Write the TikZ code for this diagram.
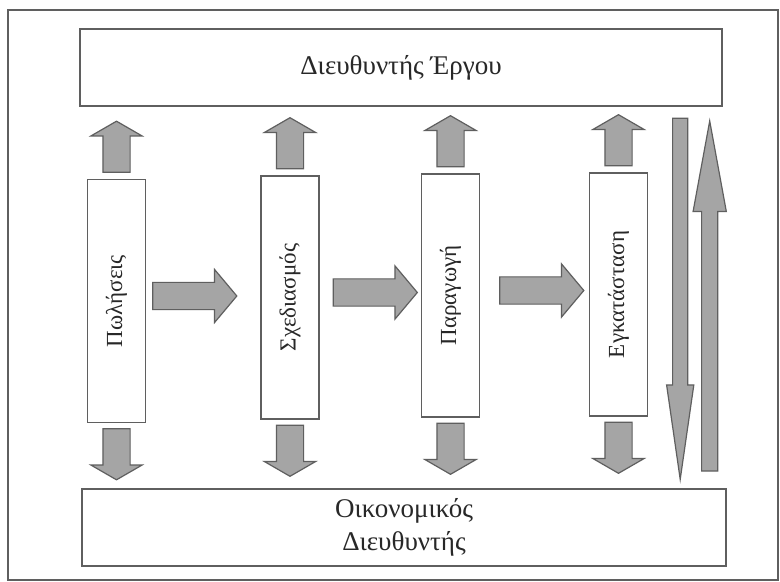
\documentclass[tikz,border=0pt]{standalone}
\usepackage{fontspec}
\setmainfont{Liberation Serif}
\usepackage{graphicx}
\usetikzlibrary{shapes.arrows,calc,positioning}
\definecolor{arrowgray}{RGB}{165,165,165}
\definecolor{edgegray}{RGB}{95,95,95}
\definecolor{textgray}{RGB}{40,40,40}

\begin{document}
\begin{tikzpicture}[x=0.5pt, y=-0.5pt,
box_style/.style={draw=edgegray, line width=0.7pt, fill=white, inner sep=0pt, text=textgray, font=\fontsize{13.5}{16.5}\selectfont, align=center},
stage_style/.style={box_style, minimum width=29pt, minimum height=121.5pt, font=\fontsize{11.5}{13}\selectfont},
arrow_style/.style={single arrow, draw=edgegray, fill=arrowgray, line width=0.6pt, single arrow head indent=0pt},
up_style/.style={arrow_style, shape border rotate=90, inner sep=6.5pt, minimum height=25.5pt, minimum width=25pt, single arrow head extend=6pt, single arrow tip angle=120, anchor=tail},
down_style/.style={up_style, shape border rotate=270},
right_style/.style={arrow_style, inner sep=6.5pt, minimum height=42pt, minimum width=26pt, single arrow head extend=6.5pt, single arrow tip angle=100, anchor=tail},
long_down/.style={arrow_style, shape border rotate=270, inner sep=3.5pt, minimum height=180.5pt, minimum width=13pt, single arrow head extend=3pt, single arrow tip angle=16.4, anchor=tail},
long_up/.style={arrow_style, shape border rotate=90, inner sep=3.75pt, minimum height=175pt, minimum width=16pt, single arrow head extend=4.25pt, single arrow tip angle=20.8, anchor=tip}]
\useasboundingbox (0,0) rectangle (780,582);
\fill[white] (0,0) rectangle (780,582);
\draw[edgegray, line width=1pt] (8,10) rectangle (778,580);

% managers
\node[box_style, minimum width=321pt, minimum height=38.5pt] (pm) at (401,67.5) {Διευθυντής Έργου};
\node[box_style, minimum width=322pt, minimum height=38.5pt] (fm) at (404,527.5) {Οικονομικός\\Διευθυντής};

% stages
\node[stage_style] (sales) at (116.5,301) {\rotatebox{90}{Πωλήσεις}};
\node[stage_style] (design) at (290,297.5) {\rotatebox{90}{Σχεδιασμός}};
\node[stage_style] (prod) at (450.5,295.5) {\rotatebox{90}{Παραγωγή}};
\node[stage_style] (inst) at (618.5,294.5) {\rotatebox{90}{Εγκατάσταση}};

\foreach \s in {sales,design,prod,inst}{
  \node[up_style] (\s-up) at ([yshift=3pt]\s.north) {};
  \node[down_style] (\s-down) at ([yshift=-2.5pt]\s.south) {};
}

\node[right_style] (r1) at ([xshift=3pt, yshift=2.5pt]sales.east) {};
\node[right_style] (r2) at ([xshift=6.5pt, yshift=2.5pt]design.east) {};
\node[right_style] (r3) at ([xshift=9.5pt, yshift=2.5pt]prod.east) {};

% feedback
\node[long_down] (fb-down) at ($(inst.east |- pm.south)+(32,11)$) {};
\node[long_up] (fb-up) at ($(inst.east |- pm.south)+(61.5,11)$) {};
\end{tikzpicture}
\end{document}
